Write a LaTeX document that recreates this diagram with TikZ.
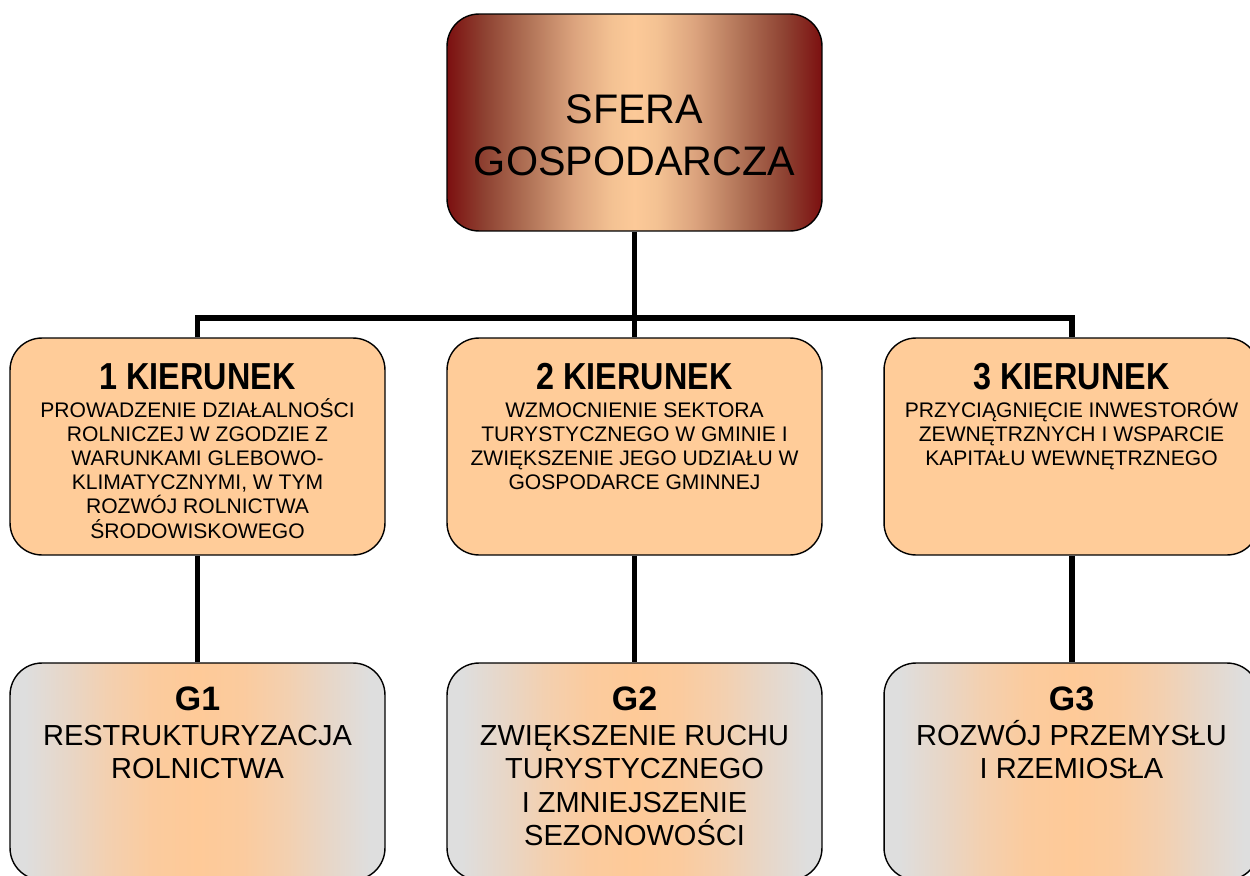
\documentclass[tikz,border=0pt]{standalone}
\usepackage{fontspec}
\setmainfont{Liberation Sans}
\newfontfamily\narrowfont[FakeStretch=0.86]{Liberation Sans}
\definecolor{kpeach}{HTML}{FFCC99}
\definecolor{dred}{HTML}{7C1010}
\definecolor{tA}{HTML}{8E4232}
\definecolor{tB}{HTML}{B27458}
\definecolor{tC}{HTML}{DCA47E}
\definecolor{tD}{HTML}{F4C293}
\definecolor{tE}{HTML}{FCC998}
\definecolor{gA}{HTML}{DEDEDE}
\definecolor{gB}{HTML}{E8D6C6}
\definecolor{gC}{HTML}{F3D0B0}
\definecolor{gD}{HTML}{FBCB9E}
\definecolor{gE}{HTML}{FECA98}
\pgfdeclarehorizontalshading{topgrad}{100bp}{color(0bp)=(dred); color(25bp)=(dred); color(30bp)=(tA); color(36bp)=(tB); color(42bp)=(tC); color(47bp)=(tD); color(50bp)=(tE); color(53bp)=(tD); color(58bp)=(tC); color(64bp)=(tB); color(70bp)=(tA); color(75bp)=(dred); color(100bp)=(dred)}
\pgfdeclarehorizontalshading{ggrad}{100bp}{color(0bp)=(gA); color(27bp)=(gA); color(33bp)=(gB); color(38bp)=(gC); color(44bp)=(gD); color(50bp)=(gE); color(56bp)=(gD); color(62bp)=(gC); color(67bp)=(gB); color(73bp)=(gA); color(100bp)=(gA)}
\tikzset{
  box/.style={draw=black, line width=0.8pt, rounded corners=0.64cm, inner sep=0pt,
    minimum width=7.5cm, minimum height=4.34cm},
  topbox/.style={box, shading=topgrad},
  kbox/.style={box, fill=kpeach},
  gbox/.style={box, shading=ggrad},
  conn/.style={draw=black, line width=3.4pt, line join=miter},
  toptext/.style={anchor=base, align=center, inner sep=0pt, font=\fontsize{23.5}{29.5}\selectfont},
  ktitle/.style={anchor=base, inner sep=0pt, font=\narrowfont\bfseries\fontsize{21.4}{24}\selectfont},
  kbody/.style={anchor=base, align=center, inner sep=0pt, font=\fontsize{12}{13.7}\selectfont},
  gtitle/.style={anchor=base, inner sep=0pt, font=\bfseries\fontsize{19.3}{22}\selectfont},
  gbody/.style={anchor=base, align=center, inner sep=0pt, font=\fontsize{16.5}{19}\selectfont}
}
\begin{document}
\begin{tikzpicture}[x=0.02cm, y=-0.02cm]
\useasboundingbox (0,0) rectangle (1250,875);
\clip (0,0) rectangle (1250,875);
% boxes
\node[topbox] (top) at (634.5,122.5) {};
\node[kbox] (k1) at (197.5,446.5) {};
\node[kbox] (k2) at (634.5,446.5) {};
\node[kbox] (k3) at (1071.5,446.5) {};
\node[gbox] (g1) at (197.5,771.5) {};
\node[gbox] (g2) at (634.5,771.5) {};
\node[gbox] (g3) at (1071.5,771.5) {};
% connectors
\coordinate (bus) at (634.5,318);
\draw[conn] (k1.north) -- (k1.north |- bus) -- (k3.north |- bus) -- (k3.north);
\draw[conn] (top.south) -- (k2.north);
\draw[conn] (k1.south) -- (g1.north);
\draw[conn] (k2.south) -- (g2.north);
\draw[conn] (k3.south) -- (g3.north);
% texts (base anchor = baseline of the last line)
\node[toptext] (toptxt) at (634.5,175) {SFERA\\GOSPODARCZA};
\node[ktitle] (k1t) at (197.5,389) {1 KIERUNEK};
\node[ktitle] (k2t) at (634.5,389) {2 KIERUNEK};
\node[ktitle] (k3t) at (1071.5,389) {3 KIERUNEK};
\node[kbody] (k1b) at (197.5,538) {PROWADZENIE DZIAŁALNOŚCI\\ROLNICZEJ W ZGODZIE Z\\WARUNKAMI GLEBOWO-\\KLIMATYCZNYMI, W TYM\\ROZWÓJ ROLNICTWA\\ŚRODOWISKOWEGO};
\node[kbody] (k2b) at (634.5,489.6) {WZMOCNIENIE SEKTORA\\TURYSTYCZNEGO W GMINIE I\\ZWIĘKSZENIE JEGO UDZIAŁU W\\GOSPODARCE GMINNEJ};
\node[kbody] (k3b) at (1071.5,465.4) {PRZYCIĄGNIĘCIE INWESTORÓW\\ZEWNĘTRZNYCH I WSPARCIE\\KAPITAŁU WEWNĘTRZNEGO};
\node[gtitle] (g1t) at (197.5,710) {G1};
\node[gtitle] (g2t) at (634.5,710) {G2};
\node[gtitle] (g3t) at (1071.5,710) {G3};
\node[gbody] (g1b) at (197.5,778.5) {RESTRUKTURYZACJA\\ROLNICTWA};
\node[gbody] (g2b) at (634.5,845.5) {ZWIĘKSZENIE RUCHU\\TURYSTYCZNEGO\\I ZMNIEJSZENIE\\SEZONOWOŚCI};
\node[gbody] (g3b) at (1071.5,778.5) {ROZWÓJ PRZEMYSŁU\\I RZEMIOSŁA};
\end{tikzpicture}
\end{document}
